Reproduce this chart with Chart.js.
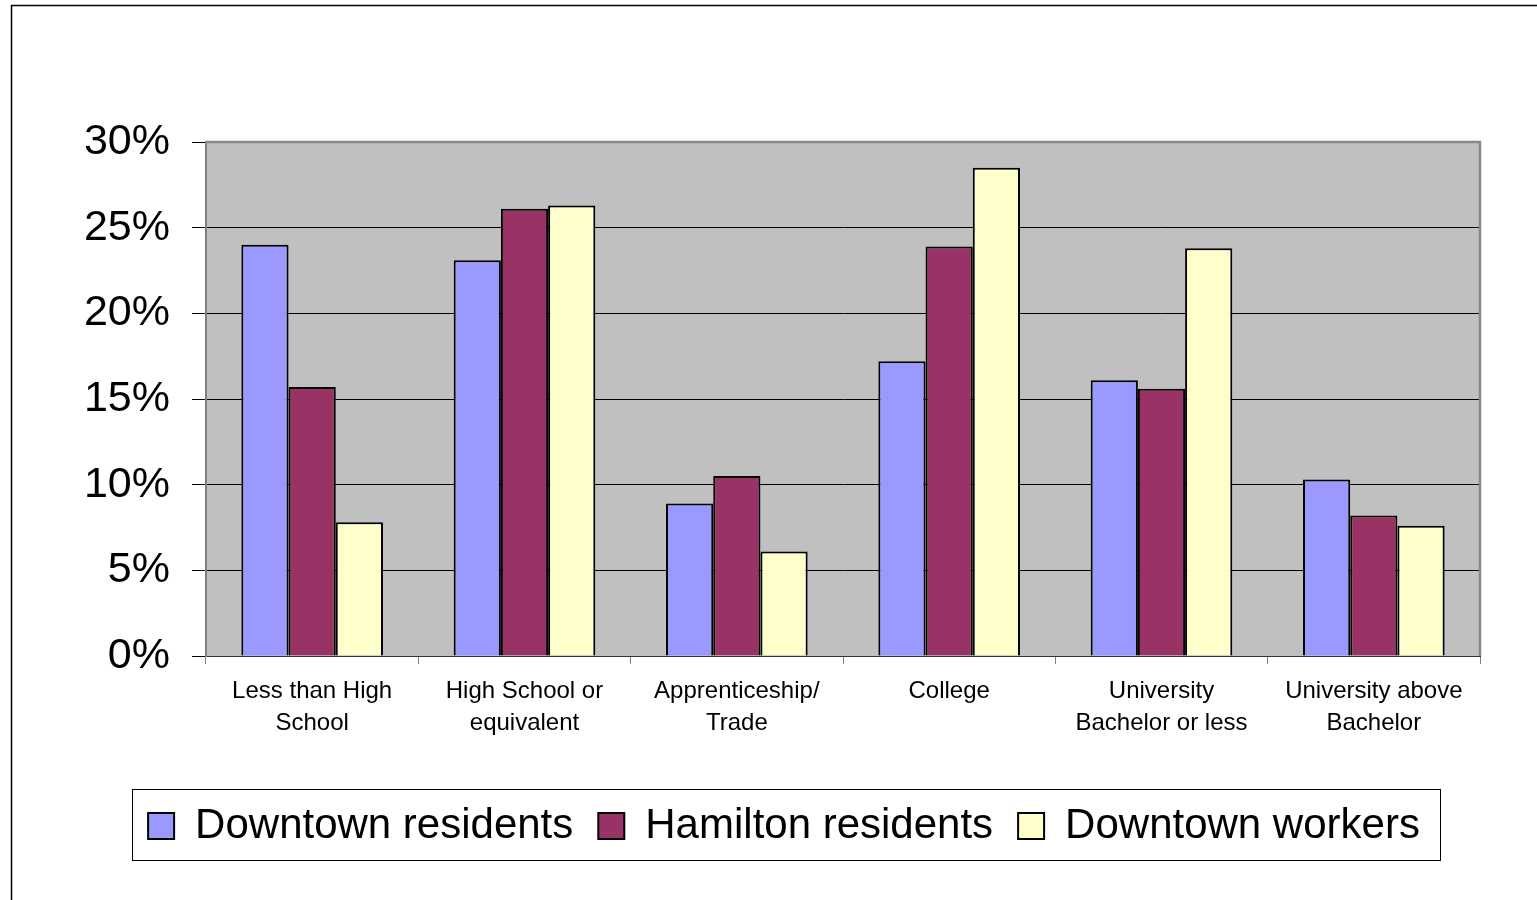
<!DOCTYPE html>
<html>
<head>
<meta charset="utf-8">
<script src="https://cdn.jsdelivr.net/npm/chart.js@4.4.1/dist/chart.umd.min.js"></script>
<style>
  html, body { margin: 0; padding: 0; background: #fff; }
  #wrap { position: relative; width: 1537px; height: 900px; }
</style>
</head>
<body>
<div id="wrap"><canvas id="chart" width="1537" height="900"></canvas></div>
<script>
const categories = [
  ['Less than High', 'School'],
  ['High School or', 'equivalent'],
  ['Apprenticeship/', 'Trade'],
  ['College'],
  ['University', 'Bachelor or less'],
  ['University above', 'Bachelor'],
];
const downtownResidents = [24.0, 23.1, 8.9, 17.2, 16.1, 10.3];
const hamiltonResidents = [15.7, 26.1, 10.5, 23.9, 15.6, 8.2];
const downtownWorkers = [7.8, 26.3, 6.1, 28.5, 23.8, 7.6];
const yTicks = [0, 5, 10, 15, 20, 25, 30];

const FONT = 'Liberation Sans, Arial, sans-serif';

// plot background, frame and legend border
const decor = {
  id: 'decor',
  afterLayout(chart) {
    // legend sits a little right of the page centre in the original
    chart.legend.left += 13;
    chart.legend.right += 13;
  },
  beforeDraw(chart) {
    const { ctx, chartArea: a } = chart;
    ctx.save();
    ctx.fillStyle = '#C0C0C0';
    ctx.fillRect(a.left, a.top, a.right - a.left, a.bottom - a.top);
    ctx.strokeStyle = '#000';
    ctx.lineWidth = 1.5;
    ctx.beginPath();
    ctx.moveTo(11.5, 900);
    ctx.lineTo(11.5, 5.5);
    ctx.lineTo(1537, 5.5);
    ctx.stroke();
    ctx.restore();
  },
  beforeDatasetsDraw(chart) {
    const { ctx, chartArea: a } = chart;
    ctx.save();
    ctx.strokeStyle = '#888';
    ctx.lineWidth = 2.5;
    ctx.beginPath();
    ctx.moveTo(a.left, a.top);
    ctx.lineTo(a.right, a.top);
    ctx.lineTo(a.right, a.bottom);
    ctx.stroke();
    ctx.restore();
  },
  afterDraw(chart) {
    const boxes = chart.legend.legendHitBoxes;
    if (!boxes || !boxes.length) return;
    const left = Math.min(...boxes.map((b) => b.left)) - 16;
    const right = Math.max(...boxes.map((b) => b.left + b.width)) + 20;
    const cy = boxes[0].top + boxes[0].height / 2;
    const { ctx } = chart;
    ctx.save();
    ctx.strokeStyle = '#000';
    ctx.lineWidth = 1;
    ctx.strokeRect(Math.round(left) + 0.5, Math.round(cy - 37) + 0.5, Math.round(right - left), 71);
    ctx.restore();
  },
};

new Chart(document.getElementById('chart'), {
  type: 'bar',
  data: {
    labels: categories,
    datasets: [
      { label: 'Downtown residents', data: downtownResidents, backgroundColor: '#9999FF' },
      { label: 'Hamilton residents', data: hamiltonResidents, backgroundColor: '#993366' },
      { label: 'Downtown workers', data: downtownWorkers, backgroundColor: '#FFFFCC' },
    ].map((d) => ({
      ...d,
      borderColor: '#000',
      borderWidth: 2,
      barPercentage: 1,
      categoryPercentage: 0.667,
    })),
  },
  options: {
    responsive: false,
    animation: false,
    devicePixelRatio: 1,
    layout: { padding: { left: 62, right: 57, top: 142, bottom: 43 } },
    plugins: {
      tooltip: { enabled: false },
      legend: {
        position: 'bottom',
        labels: {
          font: { family: FONT, size: 42 },
          color: '#000',
          boxWidth: 26,
          boxHeight: 26,
          padding: 25,
          useBorderRadius: false,
        },
      },
    },
    scales: {
      x: {
        afterFit: (s) => { s.height = 124; },
        grid: {
          offset: true,
          drawOnChartArea: false,
          drawTicks: true,
          tickLength: 8,
          tickColor: '#808080',
        },
        border: { color: '#333', width: 1 },
        ticks: {
          color: '#000',
          padding: 11,
          maxRotation: 0,
          autoSkip: false,
          font: { family: FONT, size: 24, lineHeight: 32 / 24 },
        },
      },
      y: {
        min: 0,
        max: 30,
        afterFit: (s) => { s.width = 144; },
        afterBuildTicks: (s) => { s.ticks = yTicks.map((v) => ({ value: v })); },
        grid: {
          color: (c) => (c.tick && c.tick.value === 30 ? '#888' : '#000'),
          lineWidth: 1,
          tickLength: 14,
          tickColor: '#000',
        },
        border: { color: '#808080', width: 2 },
        ticks: {
          color: '#000',
          padding: 22,
          font: { family: FONT, size: 43 },
          callback: (v) => v + '%',
        },
      },
    },
  },
  plugins: [decor],
});
</script>
</body>
</html>
